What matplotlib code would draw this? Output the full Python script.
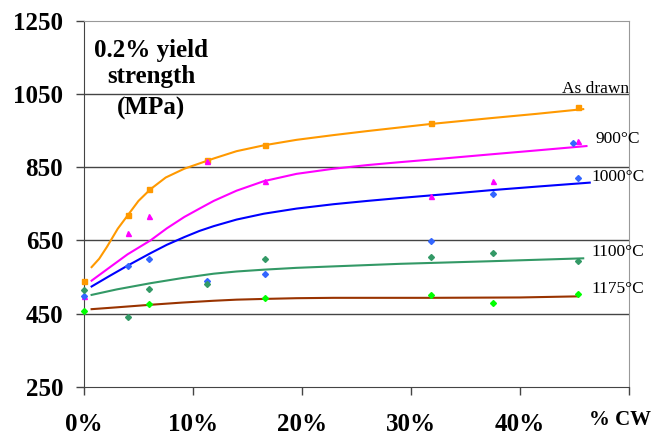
#%%
# imports
import numpy as np
import matplotlib
matplotlib.use("Agg")
import matplotlib.pyplot as plt

#%%
# measured yield strength (MPa) vs cold work (%)
cw_as_drawn = [0, 4.0, 6.0, 11.3, 16.6, 31.8, 45.3]
ys_as_drawn = [540, 720, 790, 869, 910, 971, 1014]

cw_900 = [0, 4.0, 6.0, 11.3, 16.6, 31.8, 37.5, 45.3]
ys_900 = [499, 670, 716, 867, 812, 772, 812, 922]

cw_1000 = [0, 4.0, 6.0, 11.3, 16.6, 31.8, 37.5, 44.9, 45.3]
ys_1000 = [499, 581, 598, 540, 559, 649, 776, 915, 820]

cw_1100 = [0, 4.0, 6.0, 11.3, 16.6, 31.8, 37.5, 45.3]
ys_1100 = [515, 440, 517, 530, 598, 606, 616, 594]

cw_1175 = [0, 6.0, 16.6, 31.8, 37.5, 45.3]
ys_1175 = [458, 477, 493, 502, 478, 504]

# trend lines
fit_x_as_drawn = [0.7, 1.4, 2.1, 3.1, 4.0, 5.0, 6.1, 7.5, 9.2, 11.9, 14.0, 16.5, 19.5,
                  22.9, 26.0, 29.0, 31.7, 37.2, 41.5, 45.8]
fit_y_as_drawn = [577, 600, 632, 682, 718, 758, 790, 822, 846, 874, 894, 910, 925,
                  938, 949, 959, 968, 984, 996, 1009]

fit_x_900 = [0.7, 2.3, 4.0, 6.1, 7.6, 9.2, 10.6, 11.9, 14.0, 16.5, 19.5, 22.9, 26.0,
             29.0, 33.0, 37.2, 41.5, 46.1]
fit_y_900 = [540, 575, 612, 650, 683, 714, 737, 758, 786, 812, 832, 846, 856,
             864, 874, 885, 896, 908]

fit_x_1000 = [0.7, 2.3, 4.0, 6.1, 7.6, 9.2, 10.6, 11.9, 14.0, 16.5, 19.5, 22.9, 26.0,
              29.0, 33.0, 37.2, 41.5, 46.4]
fit_y_1000 = [524, 552, 581, 615, 638, 659, 676, 689, 707, 723, 737, 749, 758,
              766, 776, 787, 797, 808]

fit_x_1100 = [0.7, 3.0, 6.1, 9.0, 11.9, 14.0, 16.5, 19.5, 22.9, 29.0, 37.2, 45.8]
fit_y_1100 = [501, 516, 533, 547, 559, 565, 570, 575, 579, 586, 593, 601]

fit_x_1175 = [0.7, 3.0, 6.1, 9.0, 11.9, 14.0, 16.5, 19.5, 22.9, 31.8, 40.0, 45.3]
fit_y_1175 = [462, 467, 474, 480, 485, 488, 490, 492, 493, 493, 494, 497]

x_ticks = [0, 10, 20, 30, 40, 50]
x_tick_labels = ["0%", "10%", "20%", "30%", "40%", ""]
y_ticks = [250, 450, 650, 850, 1050, 1250]

#%%
# plot
plt.rcParams["font.family"] = ["Liberation Serif", "DejaVu Serif"]

fig = plt.figure(figsize=(6.55, 4.37), dpi=100)
ax = fig.add_axes([0.1282, 0.1151, 0.8321, 0.8369])

series = [
    (cw_as_drawn, ys_as_drawn, fit_x_as_drawn, fit_y_as_drawn, "s", "#FF9900", "#FF9900"),
    (cw_900, ys_900, fit_x_900, fit_y_900, "^", "#FF00FF", "#FF00FF"),
    (cw_1000, ys_1000, fit_x_1000, fit_y_1000, "D", "#3366FF", "#0000FF"),
    (cw_1100, ys_1100, fit_x_1100, fit_y_1100, "D", "#339966", "#339966"),
    (cw_1175, ys_1175, fit_x_1175, fit_y_1175, "D", "#00FF00", "#993300"),
]
for x, y, fx, fy, mk, mc, lc in series:
    ax.plot(fx, fy, color=lc, lw=1.5, zorder=3)
    ax.plot(x, y, ls="none", marker=mk, ms=3.6 if mk != "D" else 3.0,
            color=mc, zorder=4, clip_on=False)

ax.set_xlim(0, 50)
ax.set_ylim(250, 1250)
ax.set_xticks(x_ticks, x_tick_labels)
ax.set_yticks(y_ticks)
ax.tick_params(axis="both", direction="out", length=6, width=1, color="#444444")
ax.tick_params(axis="x", pad=13, labelsize=18)
ax.tick_params(axis="y", pad=9, labelsize=18)
for lab in ax.get_xticklabels() + ax.get_yticklabels():
    lab.set_fontweight("bold")

for yv in [450, 650, 850, 1050]:
    ax.axhline(yv, color="#444444", lw=1, zorder=1)
ax.spines["left"].set_color("#444444")
ax.spines["bottom"].set_color("#444444")
ax.spines["top"].set_color("#999999")
ax.spines["right"].set_color("#999999")

# title block
ax.text(6.15, 1170, "0.2% yield", fontsize=18, fontweight="bold", ha="center", va="center")
ax.text(6.15, 1097, "strength", fontsize=18, fontweight="bold", ha="center", va="center")
ax.text(6.15, 1012, "(MPa)", fontsize=18, fontweight="bold", ha="center", va="center")

ax.text(49.2, 160, "% CW", fontsize=15, fontweight="bold", ha="center", va="center",
        clip_on=False)

# series labels
ax.text(50, 1053, "As drawn", fontsize=12.5, ha="right", va="baseline")
ax.text(46.9, 927, "900°C", fontsize=12.5, ha="left", va="center", clip_on=False)
ax.text(46.6, 823, "1000°C", fontsize=12.5, ha="left", va="center", clip_on=False)
ax.text(46.6, 617, "1100°C", fontsize=12.5, ha="left", va="center", clip_on=False)
ax.text(46.6, 518, "1175°C", fontsize=12.5, ha="left", va="center", clip_on=False)

fig.savefig("out.png", dpi=100)
